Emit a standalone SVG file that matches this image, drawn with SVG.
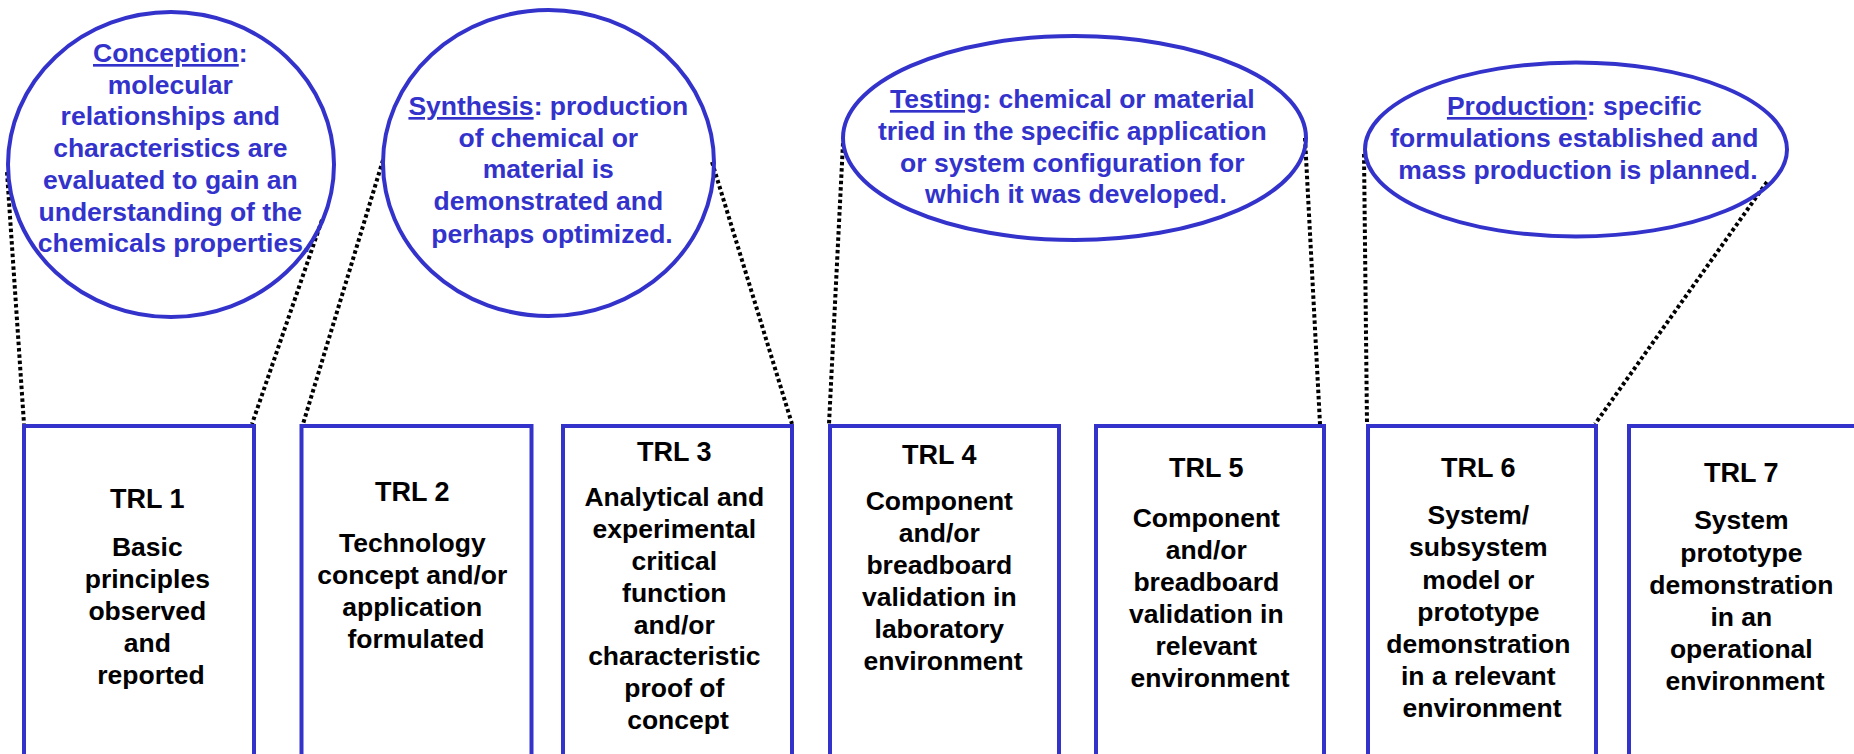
<svg xmlns="http://www.w3.org/2000/svg" width="1854" height="754" viewBox="0 0 1854 754">
<style>
.bg{fill:#ffffff}
.ell{fill:none;stroke:#3333CC;stroke-width:4}
.box{fill:#ffffff;stroke:#3333CC;stroke-width:4}
.dot{stroke:#000000;stroke-width:4;stroke-dasharray:3.5 2.8;fill:none}
.bt{font-family:"Liberation Sans",Arial,sans-serif;font-weight:bold;font-size:26.5px;fill:#3333CC;text-anchor:middle}
.kt{font-family:"Liberation Sans",Arial,sans-serif;font-weight:bold;font-size:26.5px;fill:#000000;text-anchor:middle}
.hd{font-size:27px}
.u{text-decoration:underline}
</style>
<rect class="bg" x="0" y="0" width="1854" height="754"/>
<g id="connectors">
<line class="dot" x1="7" y1="172" x2="24" y2="424"/>
<line class="dot" x1="322" y1="220" x2="252" y2="424"/>
<line class="dot" x1="383" y1="160" x2="303" y2="424"/>
<line class="dot" x1="712" y1="162" x2="792" y2="424"/>
<line class="dot" x1="843" y1="143" x2="829" y2="424"/>
<line class="dot" x1="1305" y1="138" x2="1320" y2="424"/>
<line class="dot" x1="1364" y1="154" x2="1367" y2="424"/>
<line class="dot" x1="1767" y1="182" x2="1595" y2="424"/>
</g>
<g id="conception">
<ellipse class="ell" cx="171" cy="164.5" rx="163" ry="152.5"/>
<text class="bt">
<tspan x="174" y="62"><tspan class="u">Conception</tspan>:</tspan>
<tspan x="174" y="93.5">molecular</tspan>
<tspan x="174" y="125">relationships and</tspan>
<tspan x="174" y="157">characteristics are</tspan>
<tspan x="174" y="188.5">evaluated to gain an</tspan>
<tspan x="174" y="220.5">understanding of the</tspan>
<tspan x="174" y="252">chemicals properties.</tspan>
</text>
</g>
<g id="synthesis">
<ellipse class="ell" cx="548.5" cy="163" rx="165.5" ry="153"/>
<text class="bt">
<tspan x="552" y="115"><tspan class="u">Synthesis</tspan>: production</tspan>
<tspan x="552" y="146.5">of chemical or</tspan>
<tspan x="552" y="178">material is</tspan>
<tspan x="552" y="210">demonstrated and</tspan>
<tspan x="552" y="242.5">perhaps optimized.</tspan>
</text>
</g>
<g id="testing">
<ellipse class="ell" cx="1074.5" cy="138" rx="231.5" ry="102"/>
<text class="bt">
<tspan x="1076" y="108"><tspan class="u">Testing</tspan>: chemical or material</tspan>
<tspan x="1076" y="140">tried in the specific application</tspan>
<tspan x="1076" y="171.5">or system configuration for</tspan>
<tspan x="1076" y="203">which it was developed.</tspan>
</text>
</g>
<g id="production">
<ellipse class="ell" cx="1576" cy="149.5" rx="211" ry="87"/>
<text class="bt">
<tspan x="1578" y="115"><tspan class="u">Production</tspan>: specific</tspan>
<tspan x="1578" y="147">formulations established and</tspan>
<tspan x="1578" y="179">mass production is planned.</tspan>
</text>
</g>
<g id="trl1">
<rect class="box" x="24" y="426" width="230" height="340"/>
<text class="kt"><tspan class="hd" x="151" y="508">TRL 1</tspan>
<tspan x="151" y="556">Basic</tspan>
<tspan x="151" y="588">principles</tspan>
<tspan x="151" y="620">observed</tspan>
<tspan x="151" y="652">and</tspan>
<tspan x="151" y="684">reported</tspan></text>
</g>
<g id="trl2">
<rect class="box" x="301.5" y="426" width="230" height="340"/>
<text class="kt"><tspan class="hd" x="416" y="501">TRL 2</tspan>
<tspan x="416" y="552">Technology</tspan>
<tspan x="416" y="584">concept and/or</tspan>
<tspan x="416" y="616">application</tspan>
<tspan x="416" y="648">formulated</tspan></text>
</g>
<g id="trl3">
<rect class="box" x="563" y="426" width="229" height="340"/>
<text class="kt"><tspan class="hd" x="678" y="461">TRL 3</tspan>
<tspan x="678" y="506">Analytical and</tspan>
<tspan x="678" y="538">experimental</tspan>
<tspan x="678" y="570">critical</tspan>
<tspan x="678" y="602">function</tspan>
<tspan x="678" y="634">and/or</tspan>
<tspan x="678" y="665">characteristic</tspan>
<tspan x="678" y="697">proof of</tspan>
<tspan x="678" y="729">concept</tspan></text>
</g>
<g id="trl4">
<rect class="box" x="830" y="426" width="229" height="340"/>
<text class="kt"><tspan class="hd" x="943" y="464">TRL 4</tspan>
<tspan x="943" y="510">Component</tspan>
<tspan x="943" y="542">and/or</tspan>
<tspan x="943" y="574">breadboard</tspan>
<tspan x="943" y="606">validation in</tspan>
<tspan x="943" y="638">laboratory</tspan>
<tspan x="943" y="670">environment</tspan></text>
</g>
<g id="trl5">
<rect class="box" x="1096" y="426" width="228" height="340"/>
<text class="kt"><tspan class="hd" x="1210" y="477">TRL 5</tspan>
<tspan x="1210" y="527">Component</tspan>
<tspan x="1210" y="559">and/or</tspan>
<tspan x="1210" y="591">breadboard</tspan>
<tspan x="1210" y="623">validation in</tspan>
<tspan x="1210" y="655">relevant</tspan>
<tspan x="1210" y="687">environment</tspan></text>
</g>
<g id="trl6">
<rect class="box" x="1368" y="426" width="228" height="340"/>
<text class="kt"><tspan class="hd" x="1482" y="477">TRL 6</tspan>
<tspan x="1482" y="524">System/</tspan>
<tspan x="1482" y="556">subsystem</tspan>
<tspan x="1482" y="589">model or</tspan>
<tspan x="1482" y="621">prototype</tspan>
<tspan x="1482" y="653">demonstration</tspan>
<tspan x="1482" y="685">in a relevant</tspan>
<tspan x="1482" y="717">environment</tspan></text>
</g>
<g id="trl7">
<rect class="box" x="1629" y="426" width="234" height="340"/>
<text class="kt"><tspan class="hd" x="1745" y="482">TRL 7</tspan>
<tspan x="1745" y="529">System</tspan>
<tspan x="1745" y="562">prototype</tspan>
<tspan x="1745" y="594">demonstration</tspan>
<tspan x="1745" y="626">in an</tspan>
<tspan x="1745" y="658">operational</tspan>
<tspan x="1745" y="690">environment</tspan></text>
</g>
</svg>
